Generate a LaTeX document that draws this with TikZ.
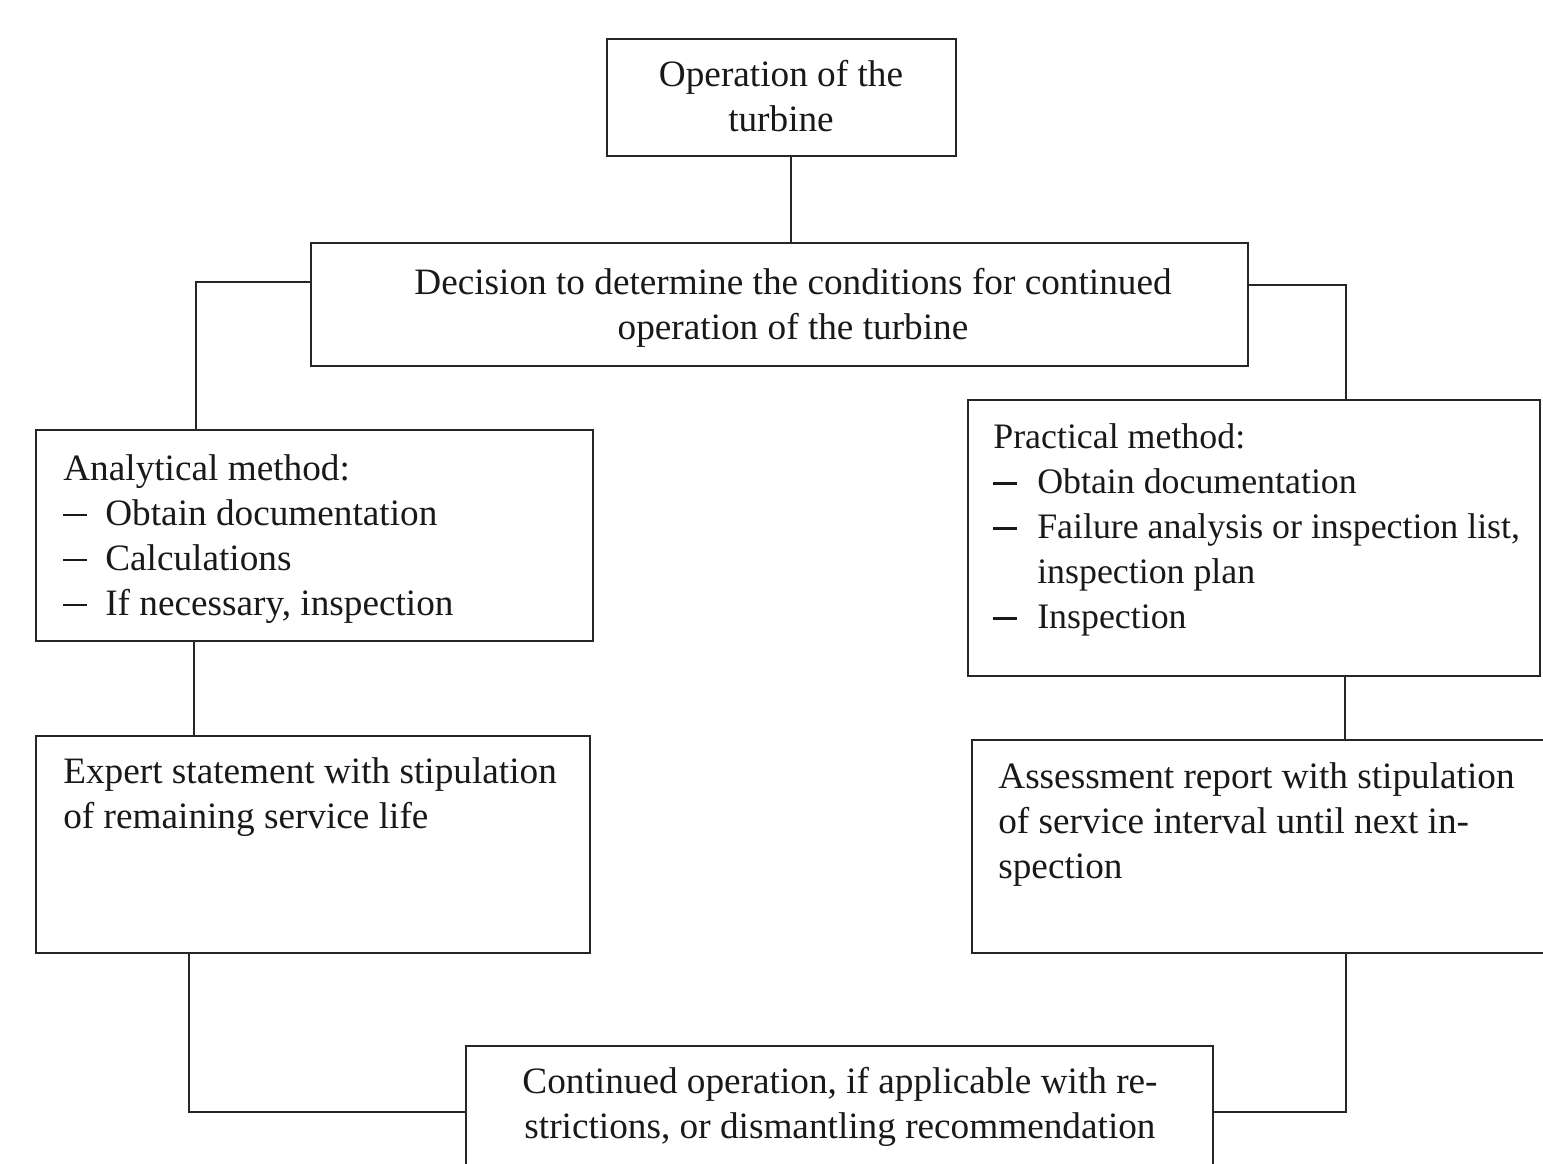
\documentclass[tikz,border=0pt]{standalone}
\usepackage{fontspec}
\setmainfont{Liberation Serif}
\newcommand\dashitem[1]{\makebox[#1][l]{\rule[0.23em]{13.5pt}{1.4pt}}}
\begin{document}
\begin{tikzpicture}[x=0.02cm,y=-0.02cm,
  box/.style={draw=black!85, line width=1.3pt, rectangle, inner sep=0pt},
  conn/.style={draw=black!85, line width=1.3pt},
  txt/.style={inner sep=0pt, font=\fontsize{21.2}{25.6}\selectfont, text=black!90},
  txtsmall/.style={inner sep=0pt, font=\fontsize{20.4}{25.6}\selectfont, text=black!90},
]
\useasboundingbox (0,0) rectangle (1543,1164);
\clip (0,0) rectangle (1543,1164);
% boxes
\node[box, minimum width=349*0.02cm, minimum height=117*0.02cm] (top) at (781.5,97.5) {};
\node[box, minimum width=937*0.02cm, minimum height=123*0.02cm] (dec) at (779.5,304.5) {};
\node[box, minimum width=557*0.02cm, minimum height=211*0.02cm] (ana) at (314.5,535.5) {};
\node[box, minimum width=572*0.02cm, minimum height=276*0.02cm] (prac) at (1254,538) {};
\node[box, minimum width=554*0.02cm, minimum height=217*0.02cm] (exp) at (313,844.5) {};
\node[box, minimum width=588*0.02cm, minimum height=213*0.02cm] (ass) at (1266,846.5) {};
\node[box, minimum width=747*0.02cm, minimum height=144*0.02cm] (bot) at (839.5,1118) {};
% texts (anchor = baseline of last line)
\node[txt, align=center, anchor=base] (ttop) at (781,131) {Operation of the\\turbine};
\node[txt, align=center, anchor=base] (tdec) at (793,339) {Decision to determine the conditions for continued\\operation of the turbine};
\node[txt, align=left, anchor=base west] (tana) at (63,615) {Analytical method:\\\dashitem{23.9pt}Obtain documentation\\\dashitem{23.9pt}Calculations\\\dashitem{23.9pt}If necessary, inspection};
\node[txtsmall, align=left, anchor=base west] (tprac) at (993,628) {Practical method:\\\dashitem{25pt}Obtain documentation\\\dashitem{25pt}Failure analysis or inspection list,\\\hspace*{25pt}inspection plan\\\dashitem{25pt}Inspection};
\node[txt, align=left, anchor=base west] (texp) at (63,828) {Expert statement with stipulation\\of remaining service life};
\node[txt, align=left, anchor=base west] (tass) at (998,878) {Assessment report with stipulation\\of service interval until next in-\\spection};
\node[txt, align=center, anchor=base] (tbot) at (840,1138) {Continued operation, if applicable with re-\\strictions, or dismantling recommendation};
% connectors
\draw[conn] (top.south -| 791,0) -- (dec.north -| 791,0);
\draw[conn] (dec.west |- 0,282) -| (ana.north -| 196,0);
\draw[conn] (dec.east |- 0,285) -| (prac.north -| 1346,0);
\draw[conn] (ana.south -| 194,0) -- (exp.north -| 194,0);
\draw[conn] (prac.south -| 1345,0) -- (ass.north -| 1345,0);
\draw[conn] (exp.south -| 189,0) |- (bot.west |- 0,1112);
\draw[conn] (ass.south -| 1346,0) |- (bot.east |- 0,1112);
\end{tikzpicture}
\end{document}
